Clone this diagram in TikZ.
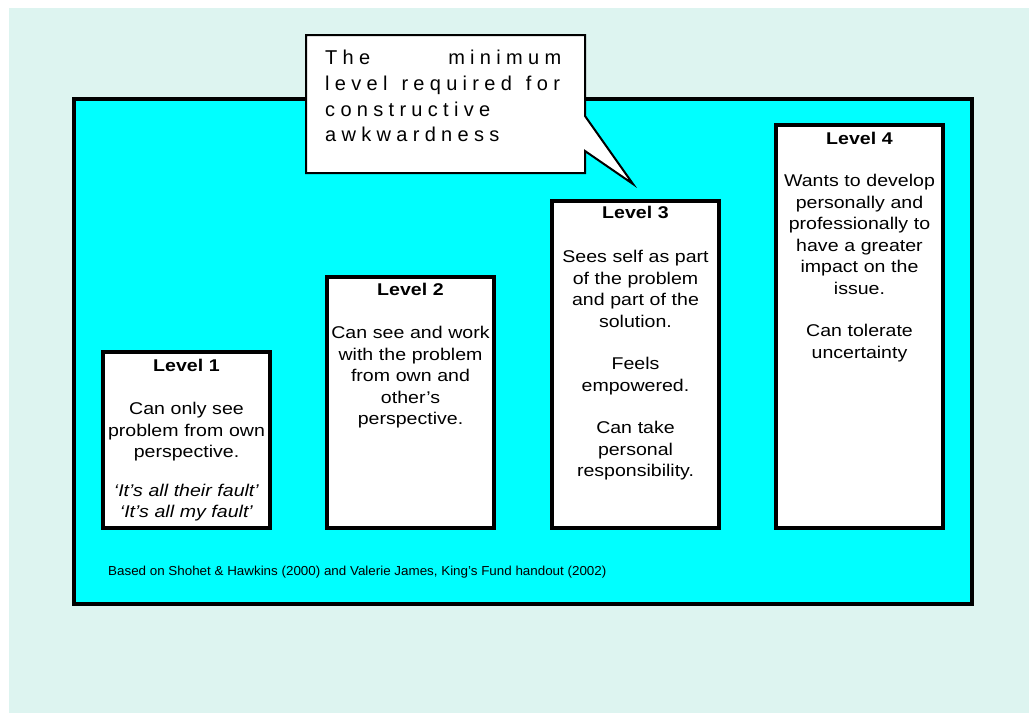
\documentclass[tikz,border=0pt]{standalone}
\usepackage{fontspec}
\setmainfont{Liberation Sans}
\newfontfamily\boxfont[FakeStretch=1.15]{Liberation Sans}
\newfontfamily\notefont[FakeStretch=1.03]{Liberation Sans}

\definecolor{mint}{RGB}{221,244,240}
\definecolor{panel}{RGB}{0,255,255}

% letter-spaced words for the speech bubble
\newlength\lsgap
\setlength\lsgap{5.3pt}
\makeatletter
\def\spreadword#1{\spread@next#1\@nil}
\def\spread@next#1#2\@nil{#1\ifx\relax#2\relax\else\kern\lsgap\spread@next#2\@nil\fi}
\makeatother
\newcommand\wgap{\kern14pt}

\begin{document}
\begin{tikzpicture}[x=1pt,y=-1pt,
  levelbox/.style={draw=black, line width=3.5pt, fill=white},
  leveltext/.style={anchor=north, inner sep=0pt, text width=175pt, align=center,
    font=\boxfont\fontsize{17}{21.5}\selectfont},
]
\useasboundingbox (0,0) rectangle (1029,713);
\fill[white] (0,0) rectangle (1029,713);
\fill[mint] (9,8) rectangle (1029,713);

% main panel
\draw[line width=4pt, fill=panel] (74,99) rectangle (972,604);

% level boxes
\draw[levelbox] (103,352) rectangle (270,528);
\draw[levelbox] (327,277) rectangle (494,528);
\draw[levelbox] (552,201) rectangle (719,528);
\draw[levelbox] (776,125) rectangle (943,528);

\node[leveltext] (lv1) at (186.5,356) {\strut\textbf{Level 1}\\[22pt]
  Can only see\\problem from own\\perspective.\\[17pt]
  \textit{‘It’s all their fault’}\\\textit{‘It’s all my fault’}};

\node[leveltext] (lv2) at (410.5,280) {\strut\textbf{Level 2}\\[22pt]
  Can see and work\\with the problem\\from own and\\other’s\\perspective.};

\node[leveltext] (lv3) at (635.5,203) {\strut\textbf{Level 3}\\[23pt]
  Sees self as part\\of the problem\\and part of the\\solution.\\[21pt]
  Feels\\empowered.\\[21pt]
  Can take\\personal\\responsibility.};

\node[leveltext] (lv4) at (859.5,129) {\strut\textbf{Level 4}\\[21pt]
  Wants to develop\\personally and\\professionally to\\have a greater\\impact on the\\issue.\\[21pt]
  Can tolerate\\uncertainty};

% source note
\node[anchor=base west, inner sep=0pt, font=\notefont\fontsize{13}{15}\selectfont] (source) at (108,575)
  {Based on Shohet \& Hawkins (2000) and Valerie James, King’s Fund handout (2002)};

% speech bubble
\draw[line width=2pt, fill=white, line join=miter]
  (306,35) -- (585,35) -- (585,116) -- (633,184) -- (585,151) -- (585,173) -- (306,173) -- cycle;
\node[anchor=north west, inner sep=0pt, align=left,
  font=\fontsize{20}{25.7}\selectfont] (bubble) at (325,46.5)
  {\strut\makebox[236pt][s]{\spreadword{The}\hfill\spreadword{minimum}}\\
   \spreadword{level}\wgap\spreadword{required}\wgap\spreadword{for}\\
   \spreadword{constructive}\\
   \spreadword{awkwardness}};
\end{tikzpicture}
\end{document}
